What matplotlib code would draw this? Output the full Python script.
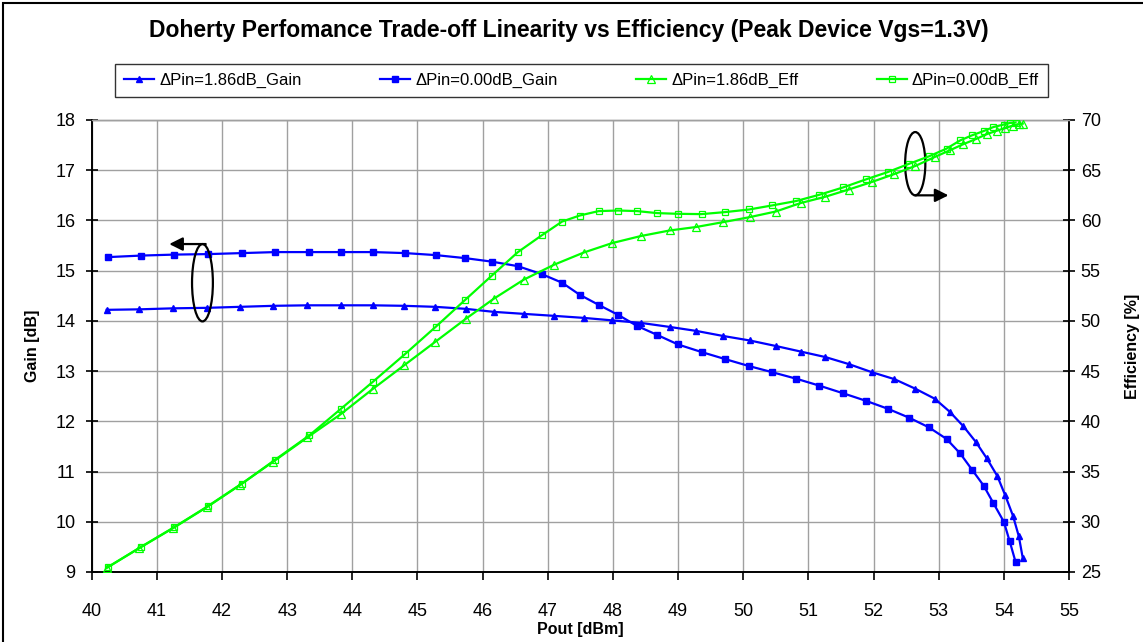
import matplotlib
matplotlib.use("Agg")
import matplotlib.pyplot as plt
from matplotlib.patches import Ellipse, Rectangle

plt.rcParams["font.family"] = ["Liberation Sans", "DejaVu Sans"]

TITLE = "Doherty Perfomance Trade-off Linearity vs Efficiency (Peak Device Vgs=1.3V)"
BLUE = "#0000ff"
GREEN = "#00ff00"

# delta Pin = 1.86 dB (triangles)
pout_186 = [40.23, 40.73, 41.25, 41.77, 42.28, 42.79, 43.31, 43.82, 44.31, 44.80,
            45.27, 45.74, 46.17, 46.63, 47.10, 47.55, 47.99, 48.43, 48.87, 49.28,
            49.69, 50.10, 50.50, 50.88, 51.26, 51.62, 51.97, 52.32, 52.64, 52.94,
            53.17, 53.38, 53.57, 53.74, 53.90, 54.02, 54.14, 54.23, 54.29]
gain_186 = [14.22, 14.23, 14.25, 14.26, 14.28, 14.30, 14.31, 14.31, 14.31, 14.30,
            14.28, 14.24, 14.18, 14.14, 14.10, 14.06, 14.01, 13.96, 13.88, 13.80,
            13.70, 13.61, 13.50, 13.39, 13.28, 13.14, 12.98, 12.84, 12.65, 12.45,
            12.19, 11.90, 11.59, 11.26, 10.91, 10.53, 10.12, 9.71, 9.28]
eff_186 = [25.4, 27.4, 29.4, 31.5, 33.7, 36.0, 38.4, 40.7, 43.2, 45.6,
           47.9, 50.2, 52.2, 54.1, 55.6, 56.8, 57.75, 58.45, 59.0, 59.35,
           59.83, 60.33, 60.89, 61.73, 62.36, 63.08, 63.82, 64.62, 65.42, 66.32,
           66.98, 67.6, 68.1, 68.6, 68.95, 69.2, 69.45, 69.57, 69.64]

# delta Pin = 0.00 dB (squares)
pout_000 = [40.25, 40.75, 41.27, 41.79, 42.31, 42.82, 43.34, 43.83, 44.32, 44.81,
            45.28, 45.73, 46.14, 46.54, 46.91, 47.22, 47.49, 47.78, 48.08, 48.37,
            48.68, 49.00, 49.36, 49.72, 50.09, 50.44, 50.81, 51.17, 51.53, 51.88,
            52.22, 52.55, 52.85, 53.12, 53.33, 53.51, 53.69, 53.84, 54.00, 54.09,
            54.18]
gain_000 = [15.27, 15.30, 15.32, 15.33, 15.35, 15.37, 15.37, 15.37, 15.37, 15.35,
            15.31, 15.25, 15.18, 15.09, 14.93, 14.76, 14.52, 14.32, 14.12, 13.90,
            13.72, 13.53, 13.38, 13.24, 13.10, 12.98, 12.85, 12.71, 12.56, 12.41,
            12.25, 12.07, 11.88, 11.65, 11.36, 11.04, 10.72, 10.37, 10.00, 9.61,
            9.20]
eff_000 = [25.5, 27.45, 29.45, 31.55, 33.8, 36.2, 38.6, 41.27, 43.96, 46.7,
           49.41, 52.08, 54.50, 56.84, 58.53, 59.89, 60.49, 60.93, 60.99, 60.93,
           60.73, 60.66, 60.63, 60.83, 61.09, 61.49, 61.93, 62.56, 63.28, 64.08,
           64.82, 65.65, 66.38, 67.15, 67.97, 68.47, 68.9, 69.3, 69.55, 69.7,
           69.75]

x_ticks = list(range(40, 56))
gain_ticks = list(range(9, 19))
eff_ticks = list(range(25, 71, 5))

fig = plt.figure(figsize=(11.43, 6.42), dpi=100)
ax = fig.add_axes([91.7 / 1143, 1 - 572 / 642, (1069 - 91.7) / 1143, (572 - 120) / 642])
ax2 = ax.twinx()

l1, = ax.plot(pout_186, gain_186, color=BLUE, lw=1.6, marker="^", ms=5,
              mfc=BLUE, mec=BLUE, label="ΔPin=1.86dB_Gain", zorder=3)
l2, = ax.plot(pout_000, gain_000, color=BLUE, lw=1.6, marker="s", ms=4.2,
              mfc=BLUE, mec=BLUE, label="ΔPin=0.00dB_Gain", zorder=3)
l3, = ax2.plot(pout_186, eff_186, color=GREEN, lw=1.6, marker="^", ms=5.5,
               mfc="none", mec=GREEN, mew=0.9, label="ΔPin=1.86dB_Eff", zorder=3)
l4, = ax2.plot(pout_000, eff_000, color=GREEN, lw=1.6, marker="s", ms=5,
               mfc="none", mec=GREEN, mew=0.9, label="ΔPin=0.00dB_Eff", zorder=3)

ax.set_xlim(40, 55)
ax.set_ylim(9, 18)
ax2.set_ylim(25, 70)
ax.set_xticks(x_ticks)
ax.set_yticks(gain_ticks)
ax2.set_yticks(eff_ticks)
ax.grid(True, color="#a0a0a0", lw=1.0)
ax.set_axisbelow(True)

for a in (ax, ax2):
    a.spines["top"].set_color("#a0a0a0")
    a.spines["top"].set_linewidth(1.0)
    for s in ("left", "right", "bottom"):
        a.spines[s].set_color("black")
        a.spines[s].set_linewidth(1.2)
ax.tick_params(axis="x", direction="out", length=6, width=1.2, labelsize=13, pad=16)
ax.tick_params(axis="y", direction="inout", length=9, width=1.2, labelsize=13, pad=7)
ax2.tick_params(axis="y", direction="inout", length=9, width=1.2, labelsize=13, pad=4)

ax.set_xlabel("Pout [dBm]", fontsize=11.5, fontweight="bold", labelpad=2)
ax.set_ylabel("Gain [dB]", fontsize=11.5, fontweight="bold", labelpad=11)
ax2.set_ylabel("Efficiency [%]", fontsize=11.5, fontweight="bold", labelpad=17)

# axis indicator ellipses and arrows
ax.add_patch(Ellipse((41.70, 14.76), 0.32, 1.54, fill=False, ec="black", lw=1.6, zorder=5))
ax.annotate("", xy=(41.19, 15.53), xytext=(41.75, 15.53),
            arrowprops=dict(arrowstyle="-|>", mutation_scale=20, lw=1.6, color="black",
                            shrinkA=0, shrinkB=0), zorder=5)
ax.add_patch(Ellipse((52.64, 17.13), 0.31, 1.26, fill=False, ec="black", lw=1.6, zorder=5))
ax.annotate("", xy=(53.15, 16.50), xytext=(52.64, 16.50),
            arrowprops=dict(arrowstyle="-|>", mutation_scale=20, lw=1.6, color="black",
                            shrinkA=0, shrinkB=0), zorder=5)

fig.text(569 / 1143, 1 - 30 / 642, TITLE, ha="center", va="center",
         fontsize=16.5, fontweight="bold")

leg = fig.legend(handles=[l1, l2, l3, l4], loc="lower left", ncol=4, mode="expand",
                 bbox_to_anchor=(115 / 1143, 1 - 97 / 642, (1048 - 115) / 1143, 36 / 642),
                 fontsize=12, frameon=True, fancybox=False, edgecolor="black",
                 handlelength=1.8, handletextpad=0.3, borderaxespad=0, borderpad=0.55)
leg.get_frame().set_linewidth(1.0)

# chart area border
fig.add_artist(Rectangle((3 / 1143, -0.1), 1.2, 1.1 - 3 / 642, transform=fig.transFigure,
                         fill=False, ec="black", lw=1.5))

fig.savefig("out.png", dpi=100)
